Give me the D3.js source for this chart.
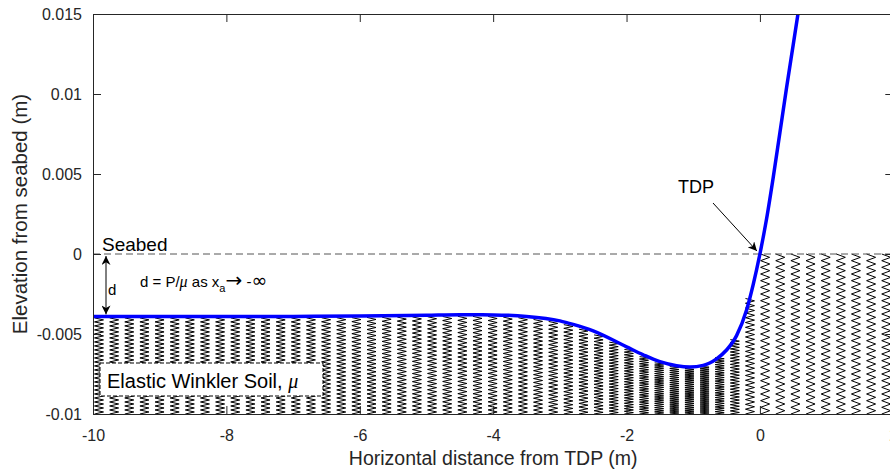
<!DOCTYPE html>
<html>
<head>
<meta charset="utf-8">
<script src="https://cdn.jsdelivr.net/npm/d3@7"></script>
<style>
  body { margin: 0; background: #fff; }
  svg { display: block; font-family: "Liberation Sans", Arial, sans-serif; }
  .chart__axis path, .chart__axis line { stroke: #262626; }
  .chart__axis text { fill: #262626; font-size: 16px; font-family: "Liberation Sans", Arial, sans-serif; }
</style>
</head>
<body>
<svg class="chart"></svg>
<script>
// beam profile (x in m, elevation in m)
const profileX = [-10, -9, -8, -7, -6, -5, -4.5, -4, -3.5, -3, -2.8, -2.5, -2, -1.75, -1.5, -1.25, -1.05, -0.85, -0.65, -0.5, -0.35, -0.2, -0.1, 0, 0.1, 0.2, 0.3, 0.4, 0.5, 0.6, 0.7];
const profileY = [-0.0039, -0.0039, -0.0039, -0.0039, -0.00388, -0.00383, -0.0038, -0.00381, -0.0039, -0.00418, -0.0044, -0.0048, -0.0058, -0.0063, -0.00673, -0.00698, -0.00706, -0.00696, -0.00655, -0.006, -0.0051, -0.0035, -0.0019, 0, 0.0022, 0.0048, 0.0076, 0.0104, 0.0131, 0.0158, 0.0186];

const xTicks = [-10, -8, -6, -4, -2, 0, 2];
const xTickLabels = ["-10", "-8", "-6", "-4", "-2", "0", "2"];
const yTicks = [-0.01, -0.005, 0, 0.005, 0.01, 0.015];
const yTickLabels = ["-0.01", "-0.005", "0", "0.005", "0.01", "0.015"];

// spring (soil) layout
const springStart = -9.91, springStep = 0.227, springCoils = 24;

const width = 890, height = 473;
const plotLeft = 93, plotRight = 893.3, plotTop = 14, plotBottom = 414;

const scaleX = d3.scaleLinear().domain([-10, 2]).range([plotLeft, plotRight]);
const scaleY = d3.scaleLinear().domain([-0.01, 0.015]).range([plotBottom, plotTop]);
const profileAt = d3.scaleLinear().domain(profileX).range(profileY);

const svg = d3.select(".chart").attr("width", width).attr("height", height);

const defs = svg.append("defs");
defs.append("clipPath").attr("id", "plot-clip")
  .append("rect").attr("x", plotLeft).attr("y", plotTop).attr("width", plotRight - plotLeft).attr("height", plotBottom - plotTop);
defs.append("marker").attr("id", "head").attr("viewBox", "0 0 10 10").attr("refX", 10).attr("refY", 5)
  .attr("markerWidth", 9).attr("markerHeight", 9).attr("markerUnits", "userSpaceOnUse").attr("orient", "auto-start-reverse")
  .append("path").attr("d", "M0,0 L10,5 L0,10 L3,5 Z").attr("fill", "#000");

const plot = svg.append("g").attr("clip-path", "url(#plot-clip)");

// springs below the beam
const springXs = d3.range(springStart, 2.1, springStep);
const hw = 4.5;
springXs.forEach(sx => {
  const cx = scaleX(sx);
  const y0 = sx < 0 ? scaleY(profileAt(sx)) + 1.5 : scaleY(0);
  const y1 = scaleY(-0.01);
  const pts = d3.range(0, 2 * springCoils + 1).map(i => [cx + (i % 2 ? hw : -hw), y0 + i * (y1 - y0) / (2 * springCoils)]);
  plot.append("path").attr("d", d3.line()(pts))
    .attr("fill", "none").attr("stroke", "#000").attr("stroke-width", 1);
});

// seabed line
plot.append("line")
  .attr("x1", scaleX(-10)).attr("x2", scaleX(2))
  .attr("y1", scaleY(0)).attr("y2", scaleY(0))
  .attr("stroke", "#555").attr("stroke-width", 1).attr("stroke-dasharray", "7,4");

// beam
const line = d3.line().x((d, i) => scaleX(profileX[i])).y(d => scaleY(d)).curve(d3.curveMonotoneX);
plot.append("path").datum(profileY).attr("d", line)
  .attr("fill", "none").attr("stroke", "#0000ff").attr("stroke-width", 3.5);

// soil label box
svg.append("rect").attr("x", 100).attr("y", 363).attr("width", 223).attr("height", 33)
  .attr("fill", "#fff").attr("stroke", "#000").attr("stroke-width", 1).attr("stroke-dasharray", "4,2");
const soil = svg.append("text").attr("x", 107).attr("y", 388).attr("font-size", 20).attr("fill", "#000");
soil.append("tspan").text("Elastic Winkler Soil,  ");
soil.append("tspan").attr("font-family", "Liberation Serif").attr("font-style", "italic").text("μ");

// axes
svg.append("g").attr("class", "chart__axis chart__axis--x").attr("transform", `translate(0,${plotBottom})`)
  .call(d3.axisBottom(scaleX).tickValues(xTicks).tickFormat((d, i) => xTickLabels[i]).tickSizeInner(-8).tickSizeOuter(0).tickPadding(16));
svg.append("g").attr("class", "chart__axis chart__axis--y").attr("transform", `translate(${plotLeft},0)`)
  .call(d3.axisLeft(scaleY).tickValues(yTicks).tickFormat((d, i) => yTickLabels[i]).tickSizeInner(-8).tickSizeOuter(0).tickPadding(11));
svg.append("g").attr("class", "chart__axis").attr("transform", `translate(0,${plotTop})`)
  .call(d3.axisTop(scaleX).tickValues(xTicks).tickFormat("").tickSizeInner(-8).tickSizeOuter(0));
svg.append("g").attr("class", "chart__axis").attr("transform", `translate(${plotRight},0)`)
  .call(d3.axisRight(scaleY).tickValues(yTicks).tickFormat("").tickSizeInner(-8).tickSizeOuter(0));

svg.append("text").attr("x", (plotLeft + plotRight) / 2).attr("y", 465).attr("text-anchor", "middle")
  .attr("font-size", 19.5).attr("fill", "#262626").text("Horizontal distance from TDP (m)");
svg.append("text").attr("transform", `translate(27,${(plotTop + plotBottom) / 2}) rotate(-90)`).attr("text-anchor", "middle")
  .attr("font-size", 20.5).attr("fill", "#262626").text("Elevation from seabed (m)");

// annotations
svg.append("text").attr("x", 102).attr("y", 251).attr("font-size", 19).attr("fill", "#000").text("Seabed");

svg.append("line").attr("x1", 106).attr("x2", 106)
  .attr("y1", scaleY(0) + 2).attr("y2", scaleY(profileAt(-10)) - 2)
  .attr("stroke", "#000").attr("stroke-width", 1)
  .attr("marker-start", "url(#head)").attr("marker-end", "url(#head)");
svg.append("text").attr("x", 108).attr("y", 295).attr("font-size", 15).attr("fill", "#000").text("d");

const dText = svg.append("text").attr("x", 140).attr("y", 287).attr("font-size", 15).attr("fill", "#000");
dText.append("tspan").text("d = P/");
dText.append("tspan").attr("font-family", "Liberation Serif").attr("font-style", "italic").attr("font-size", 16).text("μ");
dText.append("tspan").text(" as x");
dText.append("tspan").attr("font-size", 11).attr("dy", 5).text("a");
dText.append("tspan").attr("dy", -5).attr("font-family", "DejaVu Sans").attr("font-size", 20).text("→");
dText.append("tspan").text(" -");
dText.append("tspan").attr("font-family", "DejaVu Sans").attr("font-size", 19).text("∞");

svg.append("text").attr("x", 678).attr("y", 193).attr("font-size", 18).attr("fill", "#000").text("TDP");
svg.append("line").attr("x1", 713).attr("y1", 203).attr("x2", scaleX(0) - 3).attr("y2", scaleY(0) - 3)
  .attr("stroke", "#000").attr("stroke-width", 1).attr("marker-end", "url(#head)");
</script>
</body>
</html>
